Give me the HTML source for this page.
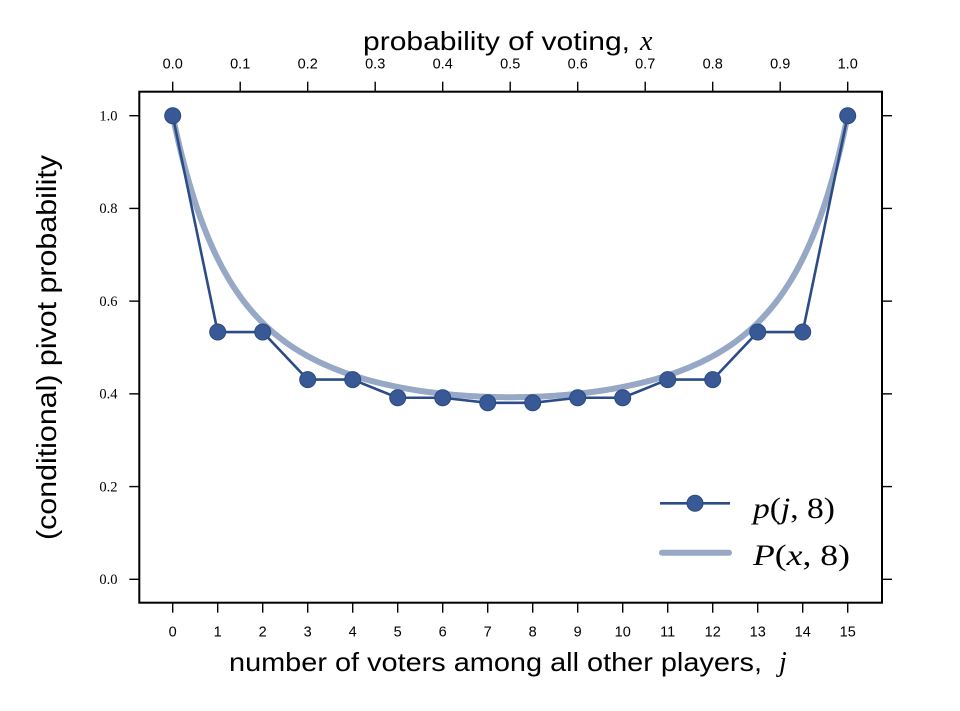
<!DOCTYPE html>
<html><head><meta charset="utf-8"><style>
html,body{margin:0;padding:0;background:#fff;}
svg{display:block;}
.s{font-family:"Liberation Sans","DejaVu Sans",sans-serif;fill:#000;}
.r{font-family:"Liberation Serif","DejaVu Serif",serif;fill:#000;}
.m{font-family:"Liberation Serif","DejaVu Serif",serif;font-style:italic;fill:#000;}
</style></head><body>
<svg id="c" width="960" height="711" viewBox="0 0 960 711" xmlns="http://www.w3.org/2000/svg">
<rect width="960" height="711" fill="#fff"/>
<g id="ticks" stroke="#000" stroke-width="1.4"></g>
<g id="labels"></g>
<path id="curve" d="" fill="none" stroke="#97a8c6" stroke-width="6" stroke-linecap="round" stroke-linejoin="round"/>
<polyline id="series" points="" fill="none" stroke="#2c4c85" stroke-width="2.6" stroke-linejoin="round"/>
<g id="markers" fill="#385996" stroke="#2a4a80" stroke-width="1"></g>
<rect x="139.3" y="91.7" width="742.7" height="511" fill="none" stroke="#000" stroke-width="2"/>

<!-- axis labels -->
<text class="s" x="363" y="50" font-size="26" textLength="267" lengthAdjust="spacingAndGlyphs">probability of voting,</text>
<text class="m" x="640" y="50" font-size="28">x</text>
<text class="s" x="229" y="671" font-size="26" textLength="533" lengthAdjust="spacingAndGlyphs">number of voters among all other players,</text>
<text class="m" x="779" y="671" font-size="28">j</text>
<text class="s" transform="translate(56,347.5) rotate(-90)" x="0" y="0" text-anchor="middle" font-size="28" textLength="385" lengthAdjust="spacingAndGlyphs">(conditional) pivot probability</text>

<!-- legend -->
<line x1="660" y1="503.3" x2="730" y2="503.3" stroke="#2c4c85" stroke-width="2.6"/>
<circle cx="695" cy="503.3" r="8" fill="#385996" stroke="#2a4a80" stroke-width="1"/>
<line x1="662" y1="552.7" x2="729" y2="552.7" stroke="#97a8c6" stroke-width="6" stroke-linecap="round"/>
<text x="753" y="518" font-size="30" textLength="82" lengthAdjust="spacingAndGlyphs"><tspan class="m">p</tspan><tspan class="r">(</tspan><tspan class="m">j</tspan><tspan class="r">, 8)</tspan></text>
<text x="753" y="565" font-size="30" textLength="97" lengthAdjust="spacingAndGlyphs"><tspan class="m">P</tspan><tspan class="r">(</tspan><tspan class="m">x</tspan><tspan class="r">, 8)</tspan></text>
</svg>
<script>
(function(){
var NS="http://www.w3.org/2000/svg";
function X(j){return 172.7+45*j;}
function Y(v){return 579.3-463.6*v;}
var ticks=document.getElementById("ticks"),labels=document.getElementById("labels");
function line(x1,y1,x2,y2){var l=document.createElementNS(NS,"line");l.setAttribute("x1",x1);l.setAttribute("y1",y1);l.setAttribute("x2",x2);l.setAttribute("y2",y2);ticks.appendChild(l);}
function text(cls,x,y,s,anchor,size){var t=document.createElementNS(NS,"text");t.setAttribute("class",cls);t.setAttribute("x",x);t.setAttribute("y",y);t.setAttribute("font-size",size);t.setAttribute("text-anchor",anchor);t.textContent=s;labels.appendChild(t);}
var j;
for(j=0;j<=15;j++){var x=X(j);line(x,602.7,x,612.7);text("s",x,636.7,String(j),"middle",14.5);}
for(var k=0;k<=10;k++){var x2=172.7+67.5*k;line(x2,81.7,x2,91.7);text("s",x2,68.3,(k/10).toFixed(1),"middle",14.5);}
for(k=0;k<=5;k++){var y=Y(k*0.2);line(129.3,y,139.3,y);line(882,y,892,y);text("r",117.5,y+4.8,(k*0.2).toFixed(1),"end",14.5);}
function C(n,r){if(r<0||r>n)return 0;var c=1;for(var i=0;i<r;i++){c=c*(n-i)/(i+1);}return c;}
var p=[];
for(j=0;j<=15;j++){var kk=Math.floor(j/2);var v;
 if(j%2==0){v=C(7,kk)*C(8,kk)/C(15,j);}else{v=C(7,kk)*C(8,kk+1)/C(15,j);}
 p.push(v);}
for(j=0;j<=15;j++){p[j]=Math.max(p[j],p[15-j]);}
var pts=[],mk=document.getElementById("markers");
for(j=0;j<=15;j++){var px=X(j),py=Y(p[j]);pts.push(px.toFixed(2)+","+py.toFixed(2));
 var c=document.createElementNS(NS,"circle");c.setAttribute("cx",px);c.setAttribute("cy",py);c.setAttribute("r",8);mk.appendChild(c);}
document.getElementById("series").setAttribute("points",pts.join(" "));
function P(x){var q=1-x;var d=[1];var i,s,nd;
 for(i=0;i<8;i++){nd=new Array(d.length+1).fill(0);for(s=0;s<d.length;s++){nd[s]+=d[s]*q;nd[s+1]+=d[s]*x;}d=nd;}
 for(i=0;i<7;i++){nd=new Array(d.length+1).fill(0);for(s=0;s<d.length;s++){nd[s]+=d[s]*x;nd[s+1]+=d[s]*q;}d=nd;}
 return d[7]+d[8];}
var dpath="";
for(var i=0;i<=300;i++){var xx=i/300;var vx=172.7+675*xx,vy=Y(P(xx));dpath+=(i==0?"M":"L")+vx.toFixed(2)+","+vy.toFixed(2);}
document.getElementById("curve").setAttribute("d",dpath);
})();
</script>
</body></html>
